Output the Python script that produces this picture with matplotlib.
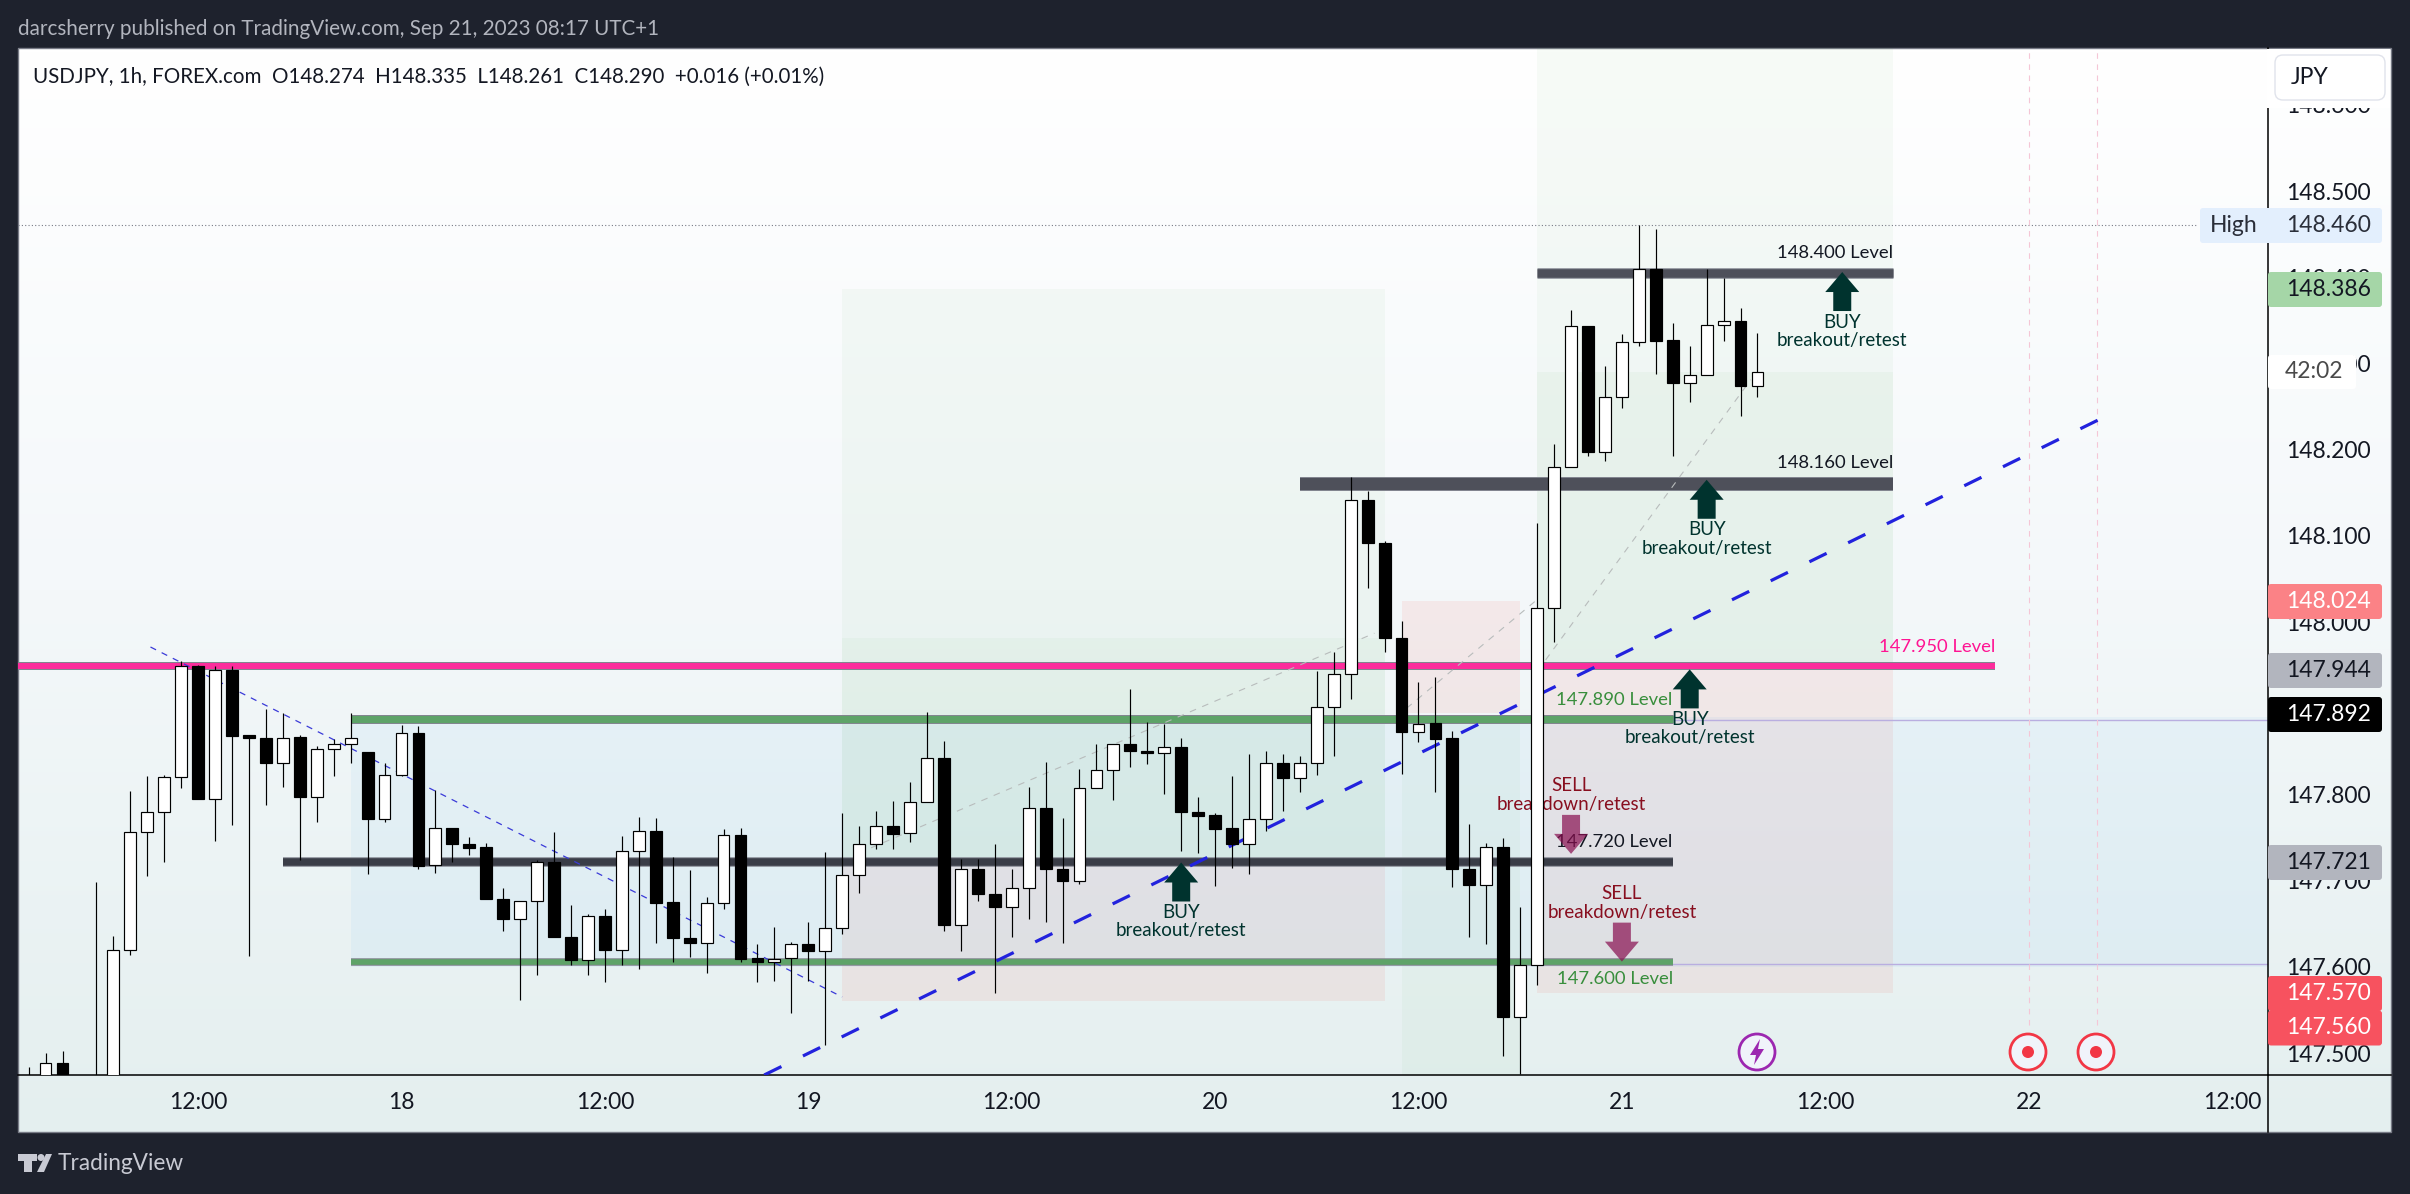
import numpy as np
import matplotlib
matplotlib.use("Agg")
import matplotlib.pyplot as plt
from matplotlib.patches import Rectangle, Polygon, FancyBboxPatch, Circle
from matplotlib.colors import LinearSegmentedColormap

# USDJPY 1h candles
opens = [147.46,147.465,147.488,147.45,147.44,147.46,147.619,147.756,147.780,147.820,
147.949,147.795,147.944,147.869,147.865,147.837,147.867,147.797,147.853,147.858,
147.849,147.771,147.823,147.871,147.718,147.761,147.742,147.739,147.679,147.655,
147.676,147.722,147.634,147.608,147.659,147.619,147.734,147.758,147.675,147.633,
147.628,147.674,147.753,147.610,147.606,147.610,147.626,147.618,147.645,147.707,
147.742,147.763,147.755,147.791,147.842,147.649,147.713,147.684,147.669,147.691,
147.784,147.713,147.699,147.807,147.828,147.859,147.850,147.848,147.855,147.780,
147.776,147.761,147.743,147.771,147.837,147.819,147.836,147.901,147.940,148.142,
148.092,147.981,147.872,147.883,147.865,147.713,147.695,147.739,147.542,147.602,
148.016,148.180,148.343,148.197,148.261,148.325,148.409,148.327,148.277,148.287,
148.344,148.349,148.274]
highs = [147.484,147.500,147.502,147.460,147.698,147.636,147.804,147.821,147.822,147.955,
147.950,147.949,147.949,147.869,147.899,147.895,147.869,147.856,147.864,147.894,
147.849,147.836,147.881,147.879,147.805,147.761,147.751,147.744,147.691,147.676,
147.724,147.756,147.672,147.661,147.667,147.752,147.774,147.773,147.727,147.712,
147.681,147.760,147.761,147.626,147.646,147.629,147.652,147.733,147.778,147.763,
147.781,147.792,147.814,147.896,147.862,147.725,147.725,147.742,147.713,147.809,
147.838,147.773,147.829,147.859,147.859,147.922,147.884,147.882,147.865,147.797,
147.778,147.821,147.847,147.850,147.847,147.845,147.943,147.965,148.168,148.152,
148.094,148.001,147.930,147.936,147.874,147.766,147.744,147.749,147.669,148.115,
148.207,148.362,148.343,148.297,148.334,148.460,148.456,148.347,148.320,148.410,
148.399,148.364,148.335]
lows = [147.44,147.46,147.45,147.40,147.43,147.45,147.614,147.705,147.722,147.808,
147.795,147.746,147.764,147.613,147.788,147.809,147.724,147.768,147.821,147.837,
147.708,147.768,147.821,147.714,147.709,147.721,147.730,147.679,147.642,147.562,
147.591,147.634,147.602,147.590,147.582,147.602,147.598,147.628,147.606,147.611,
147.593,147.667,147.606,147.582,147.584,147.546,147.583,147.509,147.638,147.686,
147.737,147.737,147.745,147.791,147.642,147.618,147.676,147.570,147.635,147.655,
147.652,147.628,147.696,147.807,147.794,147.832,147.835,147.801,147.734,147.732,
147.694,147.715,147.708,147.757,147.781,147.803,147.822,147.844,147.911,148.040,
147.965,147.824,147.861,147.803,147.693,147.634,147.626,147.497,147.476,147.579,
147.977,148.180,148.192,148.187,148.248,148.320,148.288,148.192,148.255,148.287,
148.326,148.239,148.261]
closes = [147.45,147.488,147.455,147.44,147.46,147.619,147.756,147.780,147.820,147.949,
147.795,147.944,147.868,147.865,147.837,147.866,147.797,147.853,147.858,147.866,
147.771,147.823,147.871,147.717,147.761,147.742,147.738,147.679,147.655,147.676,
147.721,147.634,147.608,147.659,147.619,147.734,147.758,147.674,147.633,147.628,
147.674,147.753,147.609,147.606,147.609,147.626,147.618,147.645,147.707,147.742,
147.763,147.754,147.791,147.842,147.649,147.713,147.684,147.669,147.691,147.784,
147.713,147.699,147.807,147.828,147.859,147.850,147.848,147.855,147.780,147.775,
147.760,147.743,147.771,147.837,147.819,147.836,147.901,147.940,148.142,148.092,
147.981,147.872,147.882,147.864,147.713,147.695,147.739,147.542,147.602,148.016,
148.180,148.343,148.197,148.261,148.325,148.409,148.326,148.277,148.287,148.344,
148.349,148.274,148.290]

time_ticks = [10,22,34,46,58,70,82,94,106,118,130]
time_labels = ["12:00","18","12:00","19","12:00","20","12:00","21","12:00","22","12:00"]
price_ticks = [148.6,148.5,148.4,148.3,148.2,148.1,148.0,147.9,147.8,147.7,147.6,147.5]

level_prices = [147.949,147.888,147.606,147.722,148.160,148.405]
level_starts = [-0.625,19,19,15,75,89]
level_ends = [116,97,97,97,110,110]

label_text = ["148.400 Level","148.160 Level","147.950 Level","147.890 Level","147.720 Level","147.600 Level"]
label_price = [148.428,148.185,147.971,147.910,147.745,147.586]
label_end = [110,110,116,97,97,97]

buy_bars = [68,99,107,98]
buy_tips = [147.721,148.165,148.406,147.945]
sell_bars = [91,94]
sell_tips = [147.731,147.606]

# x0, x1, price0, price1 of the shaded zones
zones_green = [(48,80,147.72,148.386),(48,80,147.72,147.982),(81,88,147.44,147.89),
               (89,110,147.944,148.7),(89,110,147.944,148.29)]
zones_pink = [(48,80,147.56,147.72),(81,88,147.894,148.024),(89,110,147.57,147.944)]
zone_blue = (19,132.2,147.60,147.89)

trend_bars = [43.4,123.1]
trend_prices = [147.4745,148.244]
thin_trend_bars = [7.19,48]
thin_trend_prices = [147.971,147.565]
grey_paths = [([49.7,79.4],[147.738,147.987]),([81.3,89],[147.90,148.026]),([89.5,101.6],[147.956,148.281])]

# price tags on the right scale
tag_text = ["148.386","148.024","147.944","147.892","147.721","147.570","147.560"]
tag_y = [289.5,601.5,670.5,714.5,862.5,993.5,1028]
tag_fc = ["#a5d6a7","#fb8286","#b2b5be","#000000","#b2b5be","#f7525f","#f7525f"]
tag_tc = ["#131722","#ffffff","#131722","#ffffff","#131722","#ffffff","#ffffff"]

W, H = 2410, 1194
L, R, T, B = 18, 2268, 48, 1075
FL, FR, FB = 18, 2391, 1132
PXBAR = 16.95
PXPRICE = 862.0
plt.rcParams["font.family"] = "Lato"

fig = plt.figure(figsize=(W/100, H/100), dpi=100, facecolor="#1e222d")

# background frame with soft gradient
bg = fig.add_axes([0,0,1,1], zorder=0)
bg.set_xlim(0,W); bg.set_ylim(H,0); bg.axis("off")
cmap = LinearSegmentedColormap.from_list("bg", ["#ffffff","#f4f8fa","#e4efef"])
bg.imshow(np.linspace(0,1,256).reshape(-1,1), cmap=cmap, aspect="auto", extent=(FL,FR,FB,T))
bg.set_xlim(0,W); bg.set_ylim(H,0)
bg.add_patch(Rectangle((FL,T),FR-FL,FB-T,fc="none",ec="#787b86",lw=1))

ax = fig.add_axes([L/W, 1-B/H, (R-L)/W, (B-T)/H], zorder=5)
ax.patch.set_alpha(0)
ax.set_xlim((L-28.6)/PXBAR, (R-28.6)/PXBAR)
ax.set_ylim(148.5-(B-191)/PXPRICE, 148.5-(T-191)/PXPRICE)
for s in ["top","left"]:
    ax.spines[s].set_visible(False)
ax.spines["right"].set_color("black")
ax.spines["bottom"].set_color("black")
ax.spines["right"].set_linewidth(1.1)
ax.spines["bottom"].set_linewidth(1.1)
ax.yaxis.tick_right()
ax.set_yticks(price_ticks)
ax.set_yticklabels(["%.3f" % p for p in price_ticks])
ax.set_xticks(time_ticks)
ax.set_xticklabels(time_labels)
ax.tick_params(axis="y", length=0, pad=13, labelsize=16.5, labelcolor="#131722")
ax.tick_params(axis="x", length=0, pad=12, labelsize=16.5, labelcolor="#131722")

# shaded zones
for x0,x1,p0,p1 in zones_green:
    ax.add_patch(Rectangle((x0,p0),x1-x0,p1-p0,fc="#4caf50",alpha=0.045,ec="none",zorder=1))
for x0,x1,p0,p1 in zones_pink:
    ax.add_patch(Rectangle((x0,p0),x1-x0,p1-p0,fc="#f44336",alpha=0.08,ec="none",zorder=1))
x0,x1,p0,p1 = zone_blue
ax.add_patch(Rectangle((x0,p0),x1-x0,p1-p0,fc="#2196f3",alpha=0.05,ec="none",zorder=1))

# thin lines
ax.hlines(148.46, -0.625, 128, color="#787b86", lw=0.8, linestyles=(0,(1,2)), zorder=1.5)
ax.hlines(147.886, 97, 132.2, color="#b9aee0", lw=1, zorder=1.5)
ax.hlines(147.603, 19, 132.2, color="#b9aee0", lw=1, zorder=1.5)
ax.vlines([118,122], 147.5325, 148.67, color="#f5c6d6", lw=0.8, linestyles=(0,(5,5)), zorder=1.5)

# levels
lev_col = ["#fc2d9c","#5ea368","#5ea368","#3a3d47","#4e505a","#4e505a"]
lev_px = [6,7,5.5,7.5,12,8.5]
for p,a,b,c,t in zip(level_prices, level_starts, level_ends, lev_col, lev_px):
    ax.hlines(p, a, b, color="#82858f", lw=(t+2)*0.72, zorder=2)
    ax.hlines(p, a, b, color=c, lw=t*0.72, zorder=2.1)

# trend lines
ax.plot(trend_bars, trend_prices, color="#2222dd", lw=2.3, linestyle=(0,(6,7.5)), zorder=3)
ax.plot(thin_trend_bars, thin_trend_prices, color="#3a3ad8", lw=0.9, linestyle=(0,(5,5)), zorder=3)
for xs,ps in grey_paths:
    ax.plot(xs, ps, color="#b8bcbc", lw=0.8, linestyle=(0,(6,6)), zorder=3)

# level texts
text_col = ["#131722","#131722","#ff1493","#388e3c","#131722","#388e3c"]
for s,p,e,c in zip(label_text,label_price,label_end,text_col):
    ax.text(e, p, s, ha="right", va="center", fontsize=13.3, color=c, zorder=3.5)

# buy and sell markers, arrow shapes sized in pixels
def arrow(x, tip, down, col, alpha=1.0):
    hw = 17/PXBAR; sw = 9/PXBAR
    hh = 20/PXPRICE; tot = 39/PXPRICE
    sgn = 1 if down else -1
    pts = [(x,tip),(x-hw,tip+sgn*hh),(x-sw,tip+sgn*hh),(x-sw,tip+sgn*tot),
           (x+sw,tip+sgn*tot),(x+sw,tip+sgn*hh),(x+hw,tip+sgn*hh)]
    ax.add_patch(Polygon(pts, closed=True, fc=col, ec="none", alpha=alpha, zorder=4))

for x,p in zip(buy_bars,buy_tips):
    arrow(x, p, False, "#00332e")
    ax.annotate("BUY", (x,p), xytext=(0,-50), textcoords="offset pixels", ha="center", va="center",
                fontsize=13.5, color="#00332e", zorder=3.5)
    ax.annotate("breakout/retest", (x,p), xytext=(0,-68.5), textcoords="offset pixels", ha="center",
                va="center", fontsize=13.5, color="#00332e", zorder=3.5)
for x,p in zip(sell_bars,sell_tips):
    ax.annotate("SELL", (x,p), xytext=(0,68), textcoords="offset pixels", ha="center", va="center",
                fontsize=13.5, color="#880e1f", zorder=3.5)
    ax.annotate("breakdown/retest", (x,p), xytext=(0,49.5), textcoords="offset pixels", ha="center",
                va="center", fontsize=13.5, color="#880e1f", zorder=3.5)
    arrow(x, p, True, "#880e4f", 0.7)

# candles
xs = np.arange(len(opens))
o = np.array(opens); c = np.array(closes)
ax.vlines(xs, lows, highs, color="black", lw=0.85, zorder=5)
up = c >= o
ax.bar(xs[up], np.abs(c-o)[up], bottom=np.minimum(o,c)[up], width=0.7, color="white",
       edgecolor="black", linewidth=0.85, zorder=6)
ax.bar(xs[~up], np.abs(c-o)[~up], bottom=np.minimum(o,c)[~up], width=0.7, color="black",
       edgecolor="black", linewidth=0.85, zorder=6)

# chrome drawn on top, in pixels
ui = fig.add_axes([0,0,1,1], zorder=10)
ui.set_xlim(0,W); ui.set_ylim(H,0); ui.axis("off"); ui.patch.set_alpha(0)

ui.text(18, 29, "darcsherry published on TradingView.com, Sep 21, 2023 08:17 UTC+1",
        fontsize=14.9, color="#b2b5be", va="center", ha="left")
ui.text(33, 77, "USDJPY, 1h, FOREX.com  O148.274  H148.335  L148.261  C148.290  +0.016 (+0.01%)",
        fontsize=14.8, color="#131722", va="center", ha="left")

def box(x0,y0,x1,y1,fc,ec="none",r=3,z=1):
    ui.add_patch(FancyBboxPatch((x0+r,y0+r),x1-x0-2*r,y1-y0-2*r,boxstyle="round,pad=%d,rounding_size=%d"%(r,r),
                                fc=fc,ec=ec,lw=1,zorder=z))

ui.add_patch(Rectangle((2267,49),123,59,fc="white",ec="none",zorder=1))
box(2275,55,2385,100,"white","#e0e3eb",8)
ui.text(2291,78,"JPY",fontsize=16.5,color="#131722",va="center",ha="left",zorder=2)

box(2200,208,2382,243,"#e3effd")
ui.text(2210,225,"High",fontsize=16.5,color="#2a2e39",va="center",ha="left",zorder=2)
ui.text(2286,225.5,"148.460",fontsize=16.5,color="#2a2e39",va="center",ha="left",zorder=2)
box(2268,355,2356,389,"white")
ui.text(2285,372,"42:02",fontsize=16.5,color="#4a4a4a",va="center",ha="left",zorder=2)
for s,y,f,t in zip(tag_text,tag_y,tag_fc,tag_tc):
    box(2268,y-17.5,2382,y+17.5,f)
    ui.text(2286,y,s,fontsize=16.5,color=t,va="center",ha="left",zorder=2)
ui.plot([R,R],[B,FB],color="black",lw=1.1,zorder=1)
ui.plot([R,FR],[B,B],color="black",lw=1.1,zorder=1)

# event icons
ui.add_patch(Circle((1757,1052),18,fc="#f0f3fa",ec="#9c27b0",lw=2))
ui.add_patch(Polygon([(1760,1039),(1750,1055),(1756,1055),(1754,1065),(1764,1049),(1758,1049)],fc="#9c27b0",ec="none",zorder=2))
for cx in [2028,2096]:
    ui.add_patch(Circle((cx,1052),18,fc="#f0f3fa",ec="#f23645",lw=2))
    ui.add_patch(Circle((cx,1052),6,fc="#f23645",ec="none",zorder=2))

# TradingView logo
logo = "#c8cad3"
ui.add_patch(Rectangle((18,1154),19,7,fc=logo,ec="none"))
ui.add_patch(Rectangle((24,1154),8,18,fc=logo,ec="none"))
ui.add_patch(Circle((41,1157.5),3.5,fc=logo,ec="none"))
ui.add_patch(Polygon([(46,1154),(52,1154),(44,1172),(37,1172)],fc=logo,ec="none"))
ui.text(58,1163,"TradingView",fontsize=16.3,color=logo,va="center",ha="left")

fig.savefig("out.png", dpi=100, facecolor=fig.get_facecolor())
